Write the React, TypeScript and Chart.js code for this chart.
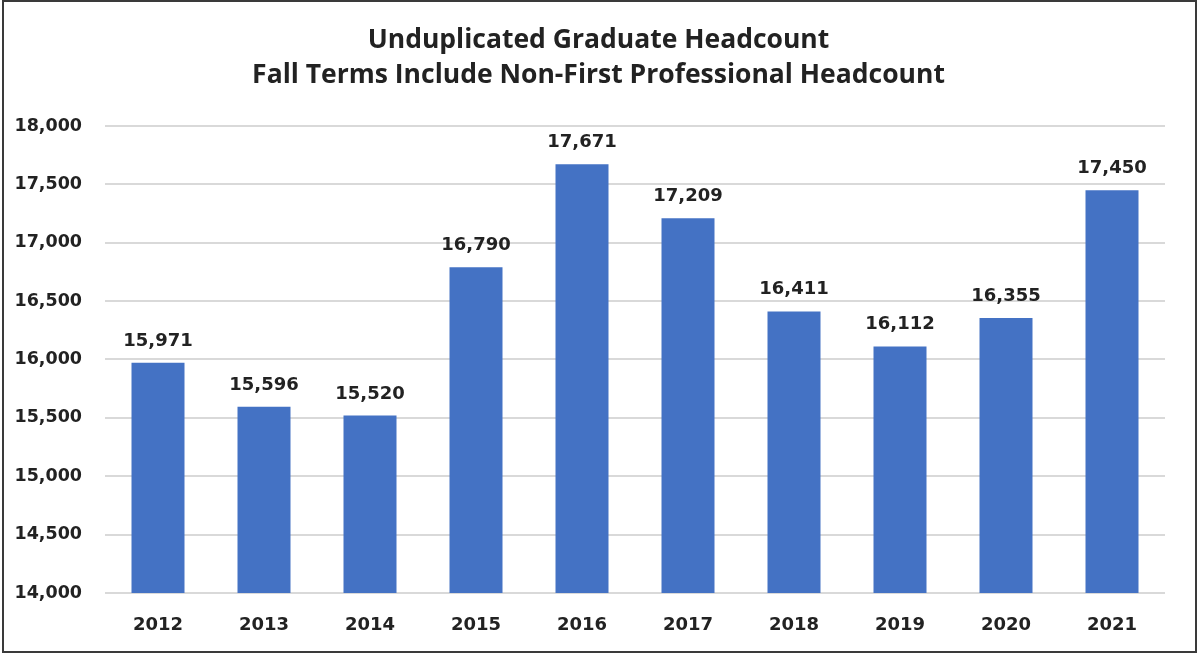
import React, { useEffect, useRef } from "react";
import { Chart, registerables } from "chart.js";

Chart.register(...registerables);

const years = ["2012", "2013", "2014", "2015", "2016", "2017", "2018", "2019", "2020", "2021"];
const headcount = [15971, 15596, 15520, 16790, 17671, 17209, 16411, 16112, 16355, 17450];
const titleLines = ["Unduplicated Graduate Headcount", "Fall Terms Include Non-First Professional Headcount"];
const yMin = 14000;
const yMax = 18000;
const yStep = 500;

const TITLE_FONT = "'Open Sans', 'Noto Sans', sans-serif";
const NUM_FONT = "'DejaVu Sans', 'Noto Sans', sans-serif";

const valueLabels = {
  id: "valueLabels",
  afterDatasetsDraw(chart: any) {
    const ctx = chart.ctx;
    const meta = chart.getDatasetMeta(0);
    const data = chart.data.datasets[0].data as number[];
    ctx.save();
    ctx.font = `bold 18px ${NUM_FONT}`;
    ctx.fillStyle = "#222222";
    ctx.textAlign = "center";
    ctx.textBaseline = "alphabetic";
    meta.data.forEach((bar: any, i: number) => {
      ctx.fillText(data[i].toLocaleString("en-US"), bar.x, bar.y - 17);
    });
    ctx.restore();
  },
};

export default function App() {
  const canvasRef = useRef<HTMLCanvasElement | null>(null);

  useEffect(() => {
    if (!canvasRef.current) return;
    const chart = new Chart(canvasRef.current, {
      type: "bar",
      data: {
        labels: years,
        datasets: [
          {
            data: headcount,
            backgroundColor: "#4472C4",
            barPercentage: 0.5,
            categoryPercentage: 1.0,
            yAxisID: "y",
          },
        ],
      },
      options: {
        animation: false,
        responsive: false,
        maintainAspectRatio: false,
        layout: { padding: { left: 10, right: 12, top: 0, bottom: 0 } },
        plugins: {
          legend: { display: false },
          tooltip: { enabled: false },
          title: {
            display: true,
            text: titleLines,
            color: "#222222",
            font: { family: TITLE_FONT, size: 26.5, weight: "bold", lineHeight: 1.32 },
            padding: { top: 22.5, bottom: 33.5 },
          },
        },
        scales: {
          x: {
            grid: { display: false, drawTicks: false },
            border: { display: false },
            ticks: {
              color: "#222222",
              font: { family: NUM_FONT, size: 18, weight: "bold" },
              padding: 22,
            },
            afterFit(scale: any) {
              scale.height = 62;
            },
          },
          y: {
            position: "left",
            min: yMin,
            max: yMax,
            grid: { color: "#d9d9d9", lineWidth: 2, drawTicks: false },
            border: { display: false },
            ticks: {
              stepSize: yStep,
              color: "#222222",
              font: { family: NUM_FONT, size: 17.5, weight: "bold" },
              padding: 23,
              callback: (v: any) => Number(v).toLocaleString("en-US"),
            },
            afterFit(scale: any) {
              scale.width = 95;
            },
          },
          yRight: {
            position: "right",
            display: true,
            min: yMin,
            max: yMax,
            grid: { display: false, drawTicks: false },
            border: { display: false },
            ticks: { display: false },
            afterFit(scale: any) {
              scale.width = 22;
            },
          },
        },
      },
      plugins: [valueLabels],
    });
    return () => chart.destroy();
  }, []);

  return (
    <div style={{ position: "fixed", left: 0, top: 0, width: 1199, height: 655, background: "#ffffff" }}>
      <canvas ref={canvasRef} width={1199} height={655} style={{ position: "absolute", left: 0, top: 0 }} />
      <div
        style={{
          position: "absolute",
          left: 2,
          top: 0,
          width: 1195,
          height: 653,
          boxSizing: "border-box",
          border: "2px solid #3a3a3a",
          pointerEvents: "none",
        }}
      />
    </div>
  );
}
